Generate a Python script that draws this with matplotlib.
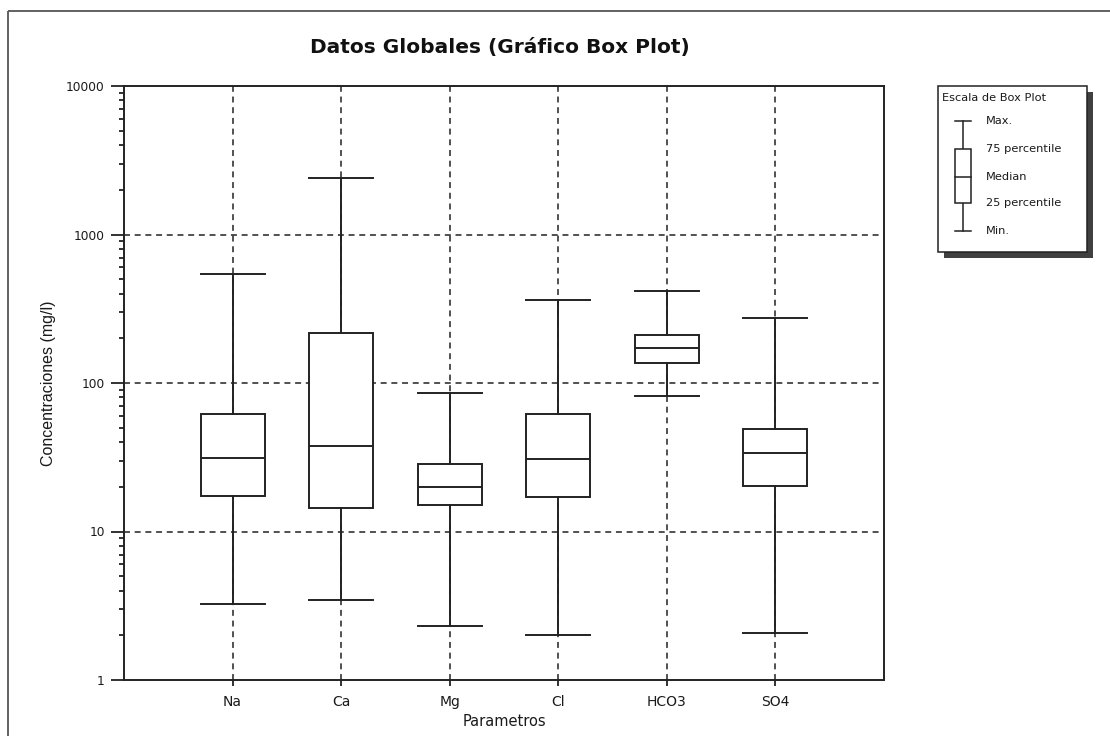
import matplotlib
matplotlib.use("Agg")
import matplotlib.pyplot as plt
from matplotlib.patches import Rectangle
from matplotlib.ticker import FixedLocator, FixedFormatter, NullFormatter
import numpy as np

# ---- data ----
categories = ["Na", "Ca", "Mg", "Cl", "HCO3", "SO4"]
mins    = [3.25, 3.47, 2.31, 2.02, 81.5, 2.07]
q1s     = [17.3, 14.5, 15.1, 17.0, 137, 20.4]
medians = [31.3, 37.6, 19.9, 30.7, 172, 33.7]
q3s     = [62.0, 216, 28.7, 62.0, 212, 49.1]
maxs    = [545, 2400, 85, 361, 417, 272]

ytick_values = [1, 10, 100, 1000, 10000]
ytick_labels = ["1", "10", "100", "1000", "10000"]

legend_labels = ["Max.", "75 percentile", "Median", "25 percentile", "Min."]

title = "Datos Globales (Gráfico Box Plot)"
xlabel = "Parametros"
ylabel = "Concentraciones (mg/l)"
legend_title = "Escala de Box Plot"

plt.rcParams['font.family'] = ['DejaVu Sans']

W, H = 1110, 736
fig = plt.figure(figsize=(W / 100, H / 100), dpi=100)
fig.patch.set_facecolor("white")

def px_axes(l, t, r, b):
    return [l / W, 1 - b / H, (r - l) / W, (b - t) / H]

ax = fig.add_axes(px_axes(124, 86, 884, 680))

LC = "#222222"
TC = "#1a1a1a"
positions = np.arange(1, len(categories) + 1)
stats = []
for i, c in enumerate(categories):
    stats.append(dict(label=c, whislo=mins[i], q1=q1s[i], med=medians[i],
                      q3=q3s[i], whishi=maxs[i], fliers=[]))

bp = ax.bxp(stats, positions=positions, widths=0.59, capwidths=0.59,
            patch_artist=True, showfliers=False,
            boxprops=dict(facecolor="white", edgecolor=LC, linewidth=1.4),
            medianprops=dict(color=LC, linewidth=1.4),
            whiskerprops=dict(color=LC, linewidth=1.4),
            capprops=dict(color=LC, linewidth=1.4),
            zorder=3)

ax.set_yscale("log")
ax.set_ylim(1, 10000)
ax.set_xlim(0, 7)

# grid
dash = (0, (3.9, 3.1))
for v in ytick_values[1:-1]:
    ax.axhline(v, color=LC, lw=1.1, linestyle=dash, zorder=1)
for p in positions:
    ax.axvline(p, color=LC, lw=1.1, linestyle=dash, zorder=1)

ax.yaxis.set_major_locator(FixedLocator(ytick_values))
ax.yaxis.set_major_formatter(FixedFormatter(ytick_labels))
minor = [m * 10 ** d for d in range(0, 4) for m in range(2, 10)]
ax.yaxis.set_minor_locator(FixedLocator(minor))
ax.yaxis.set_minor_formatter(NullFormatter())
ax.tick_params(axis="y", which="major", direction="out", length=9.4, width=1.3,
               color=LC, labelsize=8.8, pad=4.5, labelcolor=TC)
ax.tick_params(axis="y", which="minor", direction="out", length=3.6, width=1.3, color=LC)
ax.set_xticks(positions)
ax.set_xticklabels(categories)
ax.tick_params(axis="x", which="major", direction="out", length=4.5, width=1.3,
               color=LC, labelsize=10, pad=6, labelcolor=TC)
ax.tick_params(axis="x", which="minor", length=0)

for s in ax.spines.values():
    s.set_color(LC)
    s.set_linewidth(1.4)

ax.set_xlabel(xlabel, fontsize=10.5, labelpad=4, color=TC)
ax.set_ylabel(ylabel, fontsize=11.5, family=['Liberation Sans Narrow', 'Liberation Sans'], color=TC)
ax.yaxis.set_label_coords(-0.090, 0.5)

# overlay in pixel coordinates
ov = fig.add_axes([0, 0, 1, 1])
ov.set_xlim(0, W)
ov.set_ylim(H, 0)
ov.axis("off")
ov.patch.set_alpha(0)

# outer border
ov.add_patch(Rectangle((8, 11), 1200, 800, fill=False, edgecolor="#555555", lw=1.3))

ov.text(500, 47, title, ha="center", va="center", fontsize=14.5, fontweight="bold", color="#111111")

# legend box with shadow
ov.add_patch(Rectangle((944, 92), 149, 166, facecolor="#404040", edgecolor="none", zorder=2))
ov.add_patch(Rectangle((938, 86), 149, 166, facecolor="white", edgecolor=LC, lw=1.1, zorder=3))
ov.text(942, 98, legend_title, ha="left", va="center", fontsize=8.2, zorder=4, color=TC)
gx = 963
ys = [121, 149, 177, 203, 231]
ov.plot([gx, gx], [ys[0], ys[1]], color=LC, lw=1.1, zorder=4)
ov.plot([gx, gx], [ys[3], ys[4]], color=LC, lw=1.1, zorder=4)
ov.plot([955, 971], [ys[0], ys[0]], color=LC, lw=1.1, zorder=4)
ov.plot([955, 971], [ys[4], ys[4]], color=LC, lw=1.1, zorder=4)
ov.add_patch(Rectangle((955, ys[1]), 16, ys[3] - ys[1], facecolor="white", edgecolor=LC, lw=1.1, zorder=4))
ov.plot([955, 971], [ys[2], ys[2]], color=LC, lw=1.1, zorder=5)
for y, lab in zip(ys, legend_labels):
    ov.text(986, y, lab, ha="left", va="center", fontsize=8.2, zorder=5, color=TC)

fig.savefig("out.png", dpi=100)
